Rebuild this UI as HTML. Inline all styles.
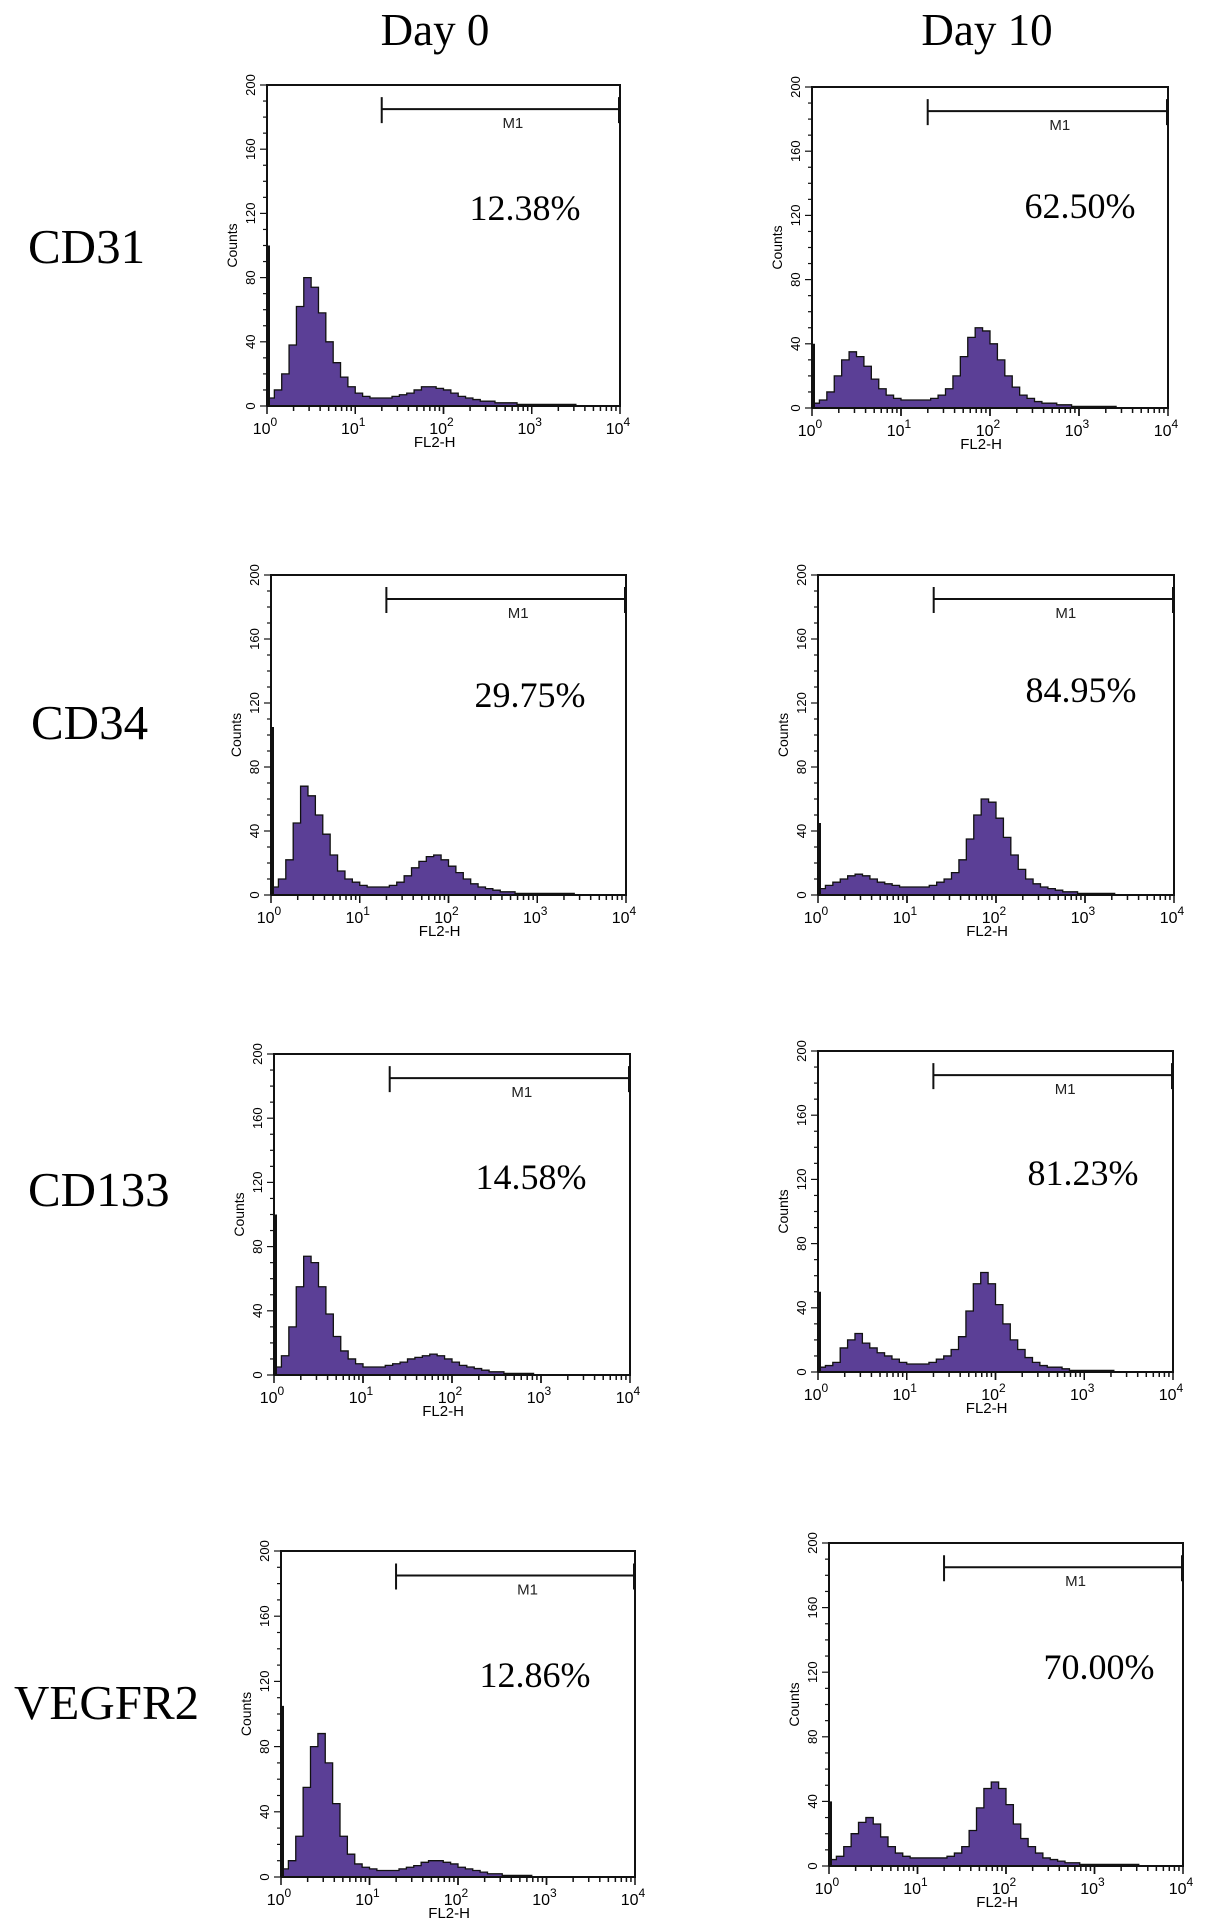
<!DOCTYPE html>
<html><head><meta charset="utf-8"><style>
html,body{margin:0;padding:0;background:#fff;}
svg{display:block;}
</style></head><body>
<svg id="fig" width="1205" height="1930" viewBox="0 0 1205 1930" xmlns="http://www.w3.org/2000/svg" font-family="Liberation Serif, serif">
<text x="435" y="45" font-size="45" text-anchor="middle">Day 0</text>
<text x="987" y="45" font-size="45" text-anchor="middle">Day 10</text>
<text x="28" y="263" font-size="49">CD31</text>
<text x="31" y="739" font-size="49">CD34</text>
<text x="28" y="1206" font-size="49">CD133</text>
<text x="14" y="1719" font-size="49">VEGFR2</text>
</svg>
<script>
// Data: counts per bin, 12 bins per decade, 4 decades (10^0..10^4)
const cd31Day0 = [5,10,20,38,62,80,74,58,40,27,18,12, 8,6,5,5,5,6,7,8,10,12,12,11, 10,8,6,5,4,3,3,2,2,2,1,1, 1,1,1,1,1,1,0,0,0,0,0,0];
const cd31Day10 = [3,5,10,20,30,35,32,26,18,12,8,6, 5,5,5,5,6,8,12,20,32,44,50,48, 40,30,20,13,8,6,4,3,3,2,2,1, 1,1,1,1,1,0,0,0,0,0,0,0];
const cd34Day0 = [5,10,22,45,68,62,50,38,25,15,10,8, 6,5,5,5,6,8,12,17,21,24,25,22, 18,14,10,7,5,4,3,2,2,1,1,1, 1,1,1,1,1,0,0,0,0,0,0,0];
const cd34Day10 = [4,6,8,10,12,13,12,10,8,7,6,5, 5,5,5,6,8,10,14,22,35,50,60,58, 48,36,25,16,10,7,5,4,3,2,2,1, 1,1,1,1,0,0,0,0,0,0,0,0];
const cd133Day0 = [5,12,30,55,74,70,55,38,24,15,10,7, 5,5,5,6,7,8,10,11,12,13,12,10, 8,6,5,4,3,2,2,1,1,1,1,0, 0,0,0,0,0,0,0,0,0,0,0,0];
const cd133Day10 = [3,4,6,15,20,24,18,15,12,10,8,6, 5,5,5,6,8,10,14,22,38,55,62,55, 42,30,20,14,9,6,4,3,3,2,1,1, 1,1,1,1,0,0,0,0,0,0,0,0];
const vegfr2Day0 = [5,10,25,55,80,88,70,45,25,14,8,6, 5,4,4,4,5,6,7,9,10,10,9,8, 6,5,4,3,2,2,1,1,1,1,0,0, 0,0,0,0,0,0,0,0,0,0,0,0];
const vegfr2Day10 = [4,6,12,20,27,30,26,18,12,8,6,5, 5,5,5,5,6,8,12,22,36,48,52,48, 38,26,17,12,8,5,4,3,2,2,1,1, 1,1,1,1,1,1,0,0,0,0,0,0];
const firstChannelSpikes = [100,40,105,45,100,50,105,40];
const percentLabels = ["12.38%","62.50%","29.75%","84.95%","14.58%","81.23%","12.86%","70.00%"];
const yTicks = [0,40,80,120,160,200];
const xTicks = [0,1,2,3,4];
const gateStartLog = 1.3;
const gateEndLog = 4;
const gateLevel = 185;

const series = [cd31Day0,cd31Day10,cd34Day0,cd34Day10,cd133Day0,cd133Day10,vegfr2Day0,vegfr2Day10];
const names = ["cd31-day0","cd31-day10","cd34-day0","cd34-day10","cd133-day0","cd133-day10","vegfr2-day0","vegfr2-day10"];
// layout (pixel boxes: left, top, right, bottom) and percentage label anchors
const boxes = [[267,85,620,406],[812,87,1168,408],[271,575,626,895],[818,575,1174,895],[274,1054,630,1375],[818,1051,1173,1372],[281,1551,635,1877],[829,1543,1183,1866]];
const pctPos = [[525,220],[1080,218],[530,707],[1081,702],[531,1189],[1083,1185],[535,1687],[1099,1679]];

const NS = "http://www.w3.org/2000/svg";
const svg = document.getElementById('fig');
function mk(tag, attrs, parent){const e=document.createElementNS(NS,tag);for(const k in attrs)e.setAttribute(k,attrs[k]);(parent||svg).appendChild(e);return e;}

series.forEach((data, p) => {
  const [L,T,R,B] = boxes[p];
  const W = R-L, H = B-T;
  const g = mk('g',{});
  
  
  const xs = v => L + v/4*W;
  const ys = c => B - c/200*H;
  const n = data.length;
  let d = `M${xs(0)},${ys(0)}`;
  data.forEach((c,i)=>{const x0=xs(i*4/n), x1=xs((i+1)*4/n);d+=` L${x0},${ys(c)} L${x1},${ys(c)}`;});
  d += ` L${xs(4)},${ys(0)} Z`;
  const hist = mk('path',{d:d,fill:'#5b3f96',stroke:'#111','stroke-width':1.3},g);
  
  
  const spike = mk('line',{x1:xs(0)+1.5,x2:xs(0)+1.5,y1:ys(0),y2:ys(firstChannelSpikes[p]),stroke:'#111','stroke-width':3},g);
  
  
  const frame = mk('path',{d:`M${L},${B} L${L},${T} L${R},${T} L${R},${B} L${L},${B}`,fill:'none',stroke:'#111','stroke-width':2},g);
  
  
  for(let c=0;c<=200;c+=10){const maj=c%40===0;mk('line',{x1:L-(maj?7:4),x2:L,y1:ys(c),y2:ys(c),stroke:'#111','stroke-width':1.2},g);}
  yTicks.forEach(c=>{const t=mk('text',{x:0,y:0,'font-family':'Liberation Sans, sans-serif','font-size':13,'text-anchor':'middle',transform:`translate(${L-12},${ys(c)}) rotate(-90)`},g);t.textContent=c;
    
    });
  const yt = mk('text',{x:0,y:0,'font-family':'Liberation Sans, sans-serif','font-size':14,'text-anchor':'middle',transform:`translate(${L-30},${ys(100)}) rotate(-90)`},g);
  yt.textContent='Counts';
  
  
  for(let dd=0;dd<4;dd++){for(let k=1;k<=10;k++){const v=dd+Math.log10(k);const maj=(k===1||k===10);mk('line',{x1:xs(v),x2:xs(v),y1:B,y2:B+(maj?8:5),stroke:'#111','stroke-width':1.5},g);}}
  xTicks.forEach(v=>{const t=mk('text',{x:xs(v)-2,y:B+28,'font-family':'Liberation Sans, sans-serif','font-size':16,'text-anchor':'middle'},g);
    t.innerHTML='10<tspan dy="-8" font-size="12">'+v+'</tspan>';
    
    });
  const xt = mk('text',{x:xs(1.9),y:B+41,'font-family':'Liberation Sans, sans-serif','font-size':15,'text-anchor':'middle'},g);
  xt.textContent='FL2-H';
  
  
  const gy = ys(gateLevel);
  const gate = mk('path',{d:`M${xs(gateStartLog)},${gy-12} L${xs(gateStartLog)},${gy+14} M${xs(gateStartLog)},${gy} L${xs(gateEndLog)-1},${gy} M${xs(gateEndLog)-1},${gy-12} L${xs(gateEndLog)-1},${gy+14}`,fill:'none',stroke:'#111','stroke-width':2},g);
  
  
  const ml = mk('text',{x:(xs(gateStartLog)+xs(gateEndLog))/2+12,y:gy+19,'font-family':'Liberation Sans, sans-serif','font-size':15,'text-anchor':'middle',fill:'#222'},g);
  ml.textContent='M1';
  
  
  const pt = mk('text',{x:pctPos[p][0],y:pctPos[p][1],'font-size':36,'text-anchor':'middle'},g);
  pt.textContent=percentLabels[p];
  
  
});
</script>
</body></html>
